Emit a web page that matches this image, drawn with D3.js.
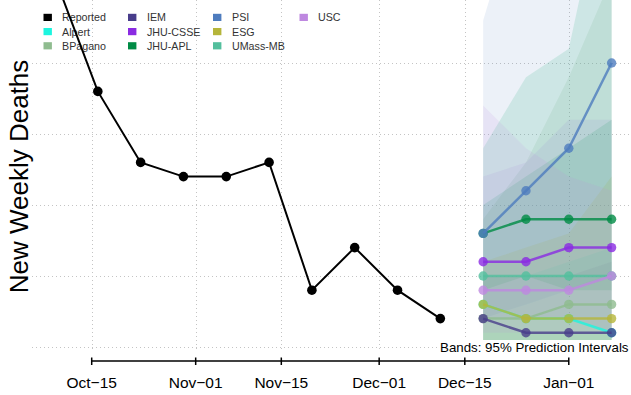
<!DOCTYPE html>
<html><head><meta charset="utf-8">
<script src="https://cdn.jsdelivr.net/npm/d3@7"></script>
<style>
html,body{margin:0;padding:0;background:#fff;}
svg{display:block;font-family:"Liberation Sans",Arial,Helvetica,sans-serif;}
</style></head>
<body>
<svg id="chart" width="631" height="395"></svg>
<script>
// ---- data ----
const reportedDates = ["2021-10-09","2021-10-16","2021-10-23","2021-10-30","2021-11-06","2021-11-13","2021-11-20","2021-11-27","2021-12-04","2021-12-11"];
const reportedValues = [31, 23, 18, 17, 17, 18, 9, 12, 9, 7];

const forecastDates = ["2021-12-18","2021-12-25","2022-01-01","2022-01-08"];
const models = ["Alpert","BPagano","IEM","JHU-CSSE","JHU-APL","PSI","ESG","UMass-MB","USC"];
const modelColors = ["#1CF5DF","#8FBC8F","#483D8B","#8A2BE2","#008B45","#4E7CBE","#B5B53A","#53BF9D","#BE88E0"];
const bandOpacity = [0.13, 0.18, 0.09, 0.08, 0.14, 0.11, 0.16, 0.2, 0.13];
const medians = {
  "Alpert":   [8, 7, 7, 6],
  "BPagano":  [7, 7, 8, 8],
  "IEM":      [7, 6, 6, 6],
  "JHU-CSSE": [11, 11, 12, 12],
  "JHU-APL":  [13, 14, 14, 14],
  "PSI":      [13, 16, 19, 25],
  "ESG":      [8, 7, 7, 7],
  "UMass-MB": [10, 10, 10, 10],
  "USC":      [9, 9, 9, 10]
};
const lower95 = {
  "Alpert":   [5, 5, 4, 4],
  "BPagano":  [4, 4, 4, 4],
  "IEM":      [5, 4, 4, 4],
  "JHU-CSSE": [7, 7, 7, 6],
  "JHU-APL":  [9, 10, 9, 9],
  "PSI":      [7, 8, 9, 10],
  "ESG":      [5, 4, 4, 4],
  "UMass-MB": [5, 5, 5, 5],
  "USC":      [6, 6, 6, 6]
};
const upper95 = {
  "Alpert":   [10, 10, 11, 12],
  "BPagano":  [14, 18, 24, 31],
  "IEM":      [10, 10, 10, 11],
  "JHU-CSSE": [17, 18, 21, 21],
  "JHU-APL":  [15, 17, 19, 21],
  "PSI":      [28, 38, 48, 60],
  "ESG":      [11, 12, 13, 17],
  "UMass-MB": [19, 24, 26, 40],
  "USC":      [22, 19, 17, 16]
};
const legendLabels = ["Reported","Alpert","BPagano","IEM","JHU-CSSE","JHU-APL","PSI","ESG","UMass-MB","USC"];
const legendColors = ["#000000"].concat(modelColors);
const tickDates = ["2021-10-15","2021-11-01","2021-11-15","2021-12-01","2021-12-15","2022-01-01"];
const tickLabels = ["Oct\u221215","Nov\u221201","Nov\u221215","Dec\u221201","Dec\u221215","Jan\u221201"];
const gridValues = [5, 10, 15, 20, 25];

// ---- setup ----
const parse = d3.utcParse("%Y-%m-%d");
const svg = d3.select("#chart");
const x = d3.scaleUtc().domain([parse("2021-10-15"), parse("2022-01-08")]).range([91.7, 611.6]);
const y = d3.scaleLinear().domain([5, 30]).range([347, -8]);
const plotTop = 0, plotBottom = 352, plotLeft = 32, plotRight = 631;

svg.append("defs").append("clipPath").attr("id","clip")
  .append("rect").attr("x",plotLeft).attr("y",plotTop).attr("width",plotRight-plotLeft).attr("height",plotBottom-plotTop);

// grid
const grid = svg.append("g").attr("stroke","#c4c4c4").attr("stroke-width",1).attr("stroke-dasharray","1 3");
grid.selectAll("line.h").data(gridValues).join("line").attr("class","h")
  .attr("x1",plotLeft).attr("x2",plotRight).attr("y1",d=>Math.round(y(d))+0.5).attr("y2",d=>Math.round(y(d))+0.5);
grid.selectAll("line.v").data(tickDates).join("line").attr("class","v")
  .attr("x1",d=>Math.round(x(parse(d)))+0.5).attr("x2",d=>Math.round(x(parse(d)))+0.5).attr("y1",plotTop).attr("y2",plotBottom);

// bands
const plot = svg.append("g").attr("clip-path","url(#clip)");
const fd = forecastDates.map(parse);
const area = d3.area().x(d=>x(d.date)).y0(d=>y(d.lo)).y1(d=>y(d.hi));
models.forEach((m,i)=>{
  const data = fd.map((d,k)=>({date:d, lo:lower95[m][k], hi:upper95[m][k]}));
  plot.append("path").datum(data).attr("d",area).attr("fill",modelColors[i]).attr("fill-opacity",bandOpacity[i]).attr("stroke","none");
});

// legend (drawn before lines)
const leg = svg.append("g");
legendLabels.forEach((lab,i)=>{
  const col = Math.floor(i/3), row = i%3;
  const sx = [43.5,128,213,299.5][col];
  const tx = [62,147,232,318][col];
  const cy = 17.4 + row*14.2;
  leg.append("rect").attr("x",sx).attr("y",cy-3.6).attr("width",8.4).attr("height",7.2).attr("fill",legendColors[i]);
  leg.append("text").attr("x",tx).attr("y",cy+3.9).attr("font-size",10.7).attr("fill","#333").text(lab);
});

// reported
const line = d3.line().x(d=>x(d.date)).y(d=>y(d.v));
const rep = reportedDates.map((d,i)=>({date:parse(d), v:reportedValues[i]}));
svg.append("path").datum(rep).attr("d",line).attr("fill","none").attr("stroke","#000").attr("stroke-width",2);
svg.selectAll("circle.rep").data(rep).join("circle").attr("class","rep")
  .attr("cx",d=>x(d.date)).attr("cy",d=>y(d.v)).attr("r",4.8).attr("fill","#000");

// forecasts
models.forEach((m,i)=>{
  const data = fd.map((d,k)=>({date:d, v:medians[m][k]}));
  const g = plot.append("g");
  g.append("path").datum(data).attr("d",line).attr("fill","none").attr("stroke",modelColors[i]).attr("stroke-opacity",0.8).attr("stroke-width",2.5);
  g.selectAll("circle").data(data).join("circle").attr("cx",d=>x(d.date)).attr("cy",d=>y(d.v)).attr("r",4.7)
    .attr("fill",modelColors[i]).attr("fill-opacity",0.8);
});

// band note
const note = svg.append("g");
note.append("rect").attr("x",437).attr("y",340).attr("width",194).attr("height",15).attr("fill","#fff");
note.append("text").attr("x",628.5).attr("y",352).attr("text-anchor","end").attr("font-size",13.3).attr("fill","#000")
  .text("Bands: 95% Prediction Intervals");

// x axis
const ax = svg.append("g").attr("transform","translate(0,361)");
const tx0 = x(parse(tickDates[0])), tx1 = x(parse(tickDates[tickDates.length-1]));
ax.append("line").attr("x1",tx0).attr("x2",tx1).attr("y1",0).attr("y2",0).attr("stroke","#000").attr("stroke-width",1.5);
ax.selectAll("line.t").data(tickDates).join("line").attr("class","t")
  .attr("x1",d=>x(parse(d))).attr("x2",d=>x(parse(d))).attr("y1",-3.5).attr("y2",4).attr("stroke","#000").attr("stroke-width",1.5);
ax.selectAll("text").data(tickDates).join("text")
  .attr("x",d=>x(parse(d))).attr("y",27).attr("text-anchor","middle").attr("font-size",15.5).attr("fill","#000")
  .text((d,i)=>tickLabels[i]);

// y title
svg.append("text").attr("transform","translate(28,176.5) rotate(-90)").attr("text-anchor","middle")
  .attr("font-size",26).attr("fill","#000").text("New Weekly Deaths");
</script>
</body></html>
